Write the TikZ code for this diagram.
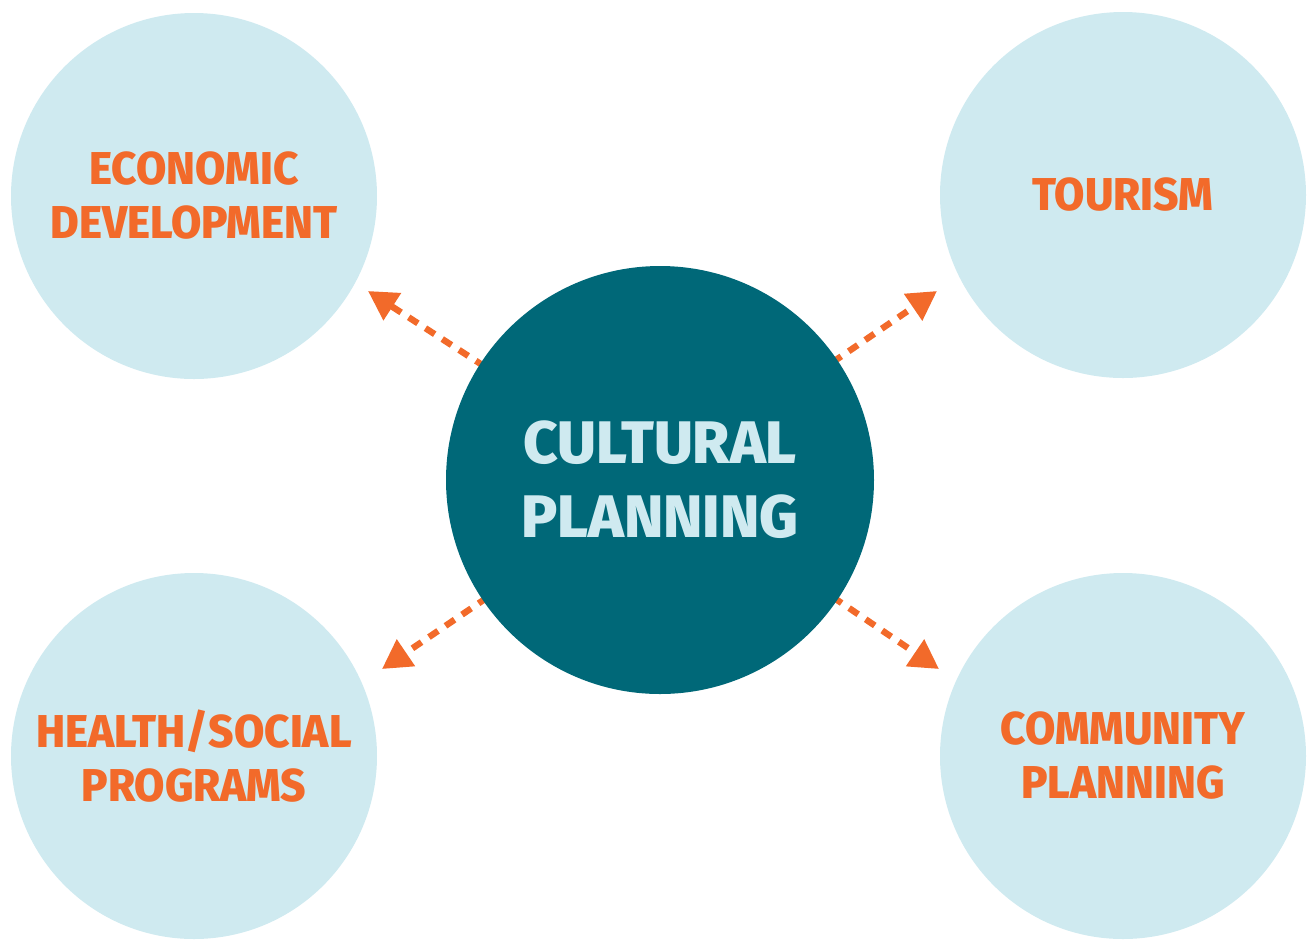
\documentclass[tikz,border=0pt]{standalone}
\usepackage{fontspec}
\setmainfont{Fira Sans}
\usetikzlibrary{arrows.meta,backgrounds}
\definecolor{teal}{HTML}{006878}
\definecolor{pale}{HTML}{CFEAF0}
\definecolor{orng}{HTML}{F26A2A}
\newfontfamily\narrowfont{Fira Sans ExtraBold}[FakeStretch=0.955]
\newfontfamily\hubfont{Fira Sans ExtraBold}
\tikzset{
  outer/.style={circle, fill=pale, minimum size=183pt, inner sep=0pt, align=center,
    text=orng, font=\fontsize{23}{27}\narrowfont},
  hub/.style={circle, fill=teal, minimum size=214pt, inner sep=0pt, align=center,
    text=pale, font=\fontsize{30}{37}\hubfont},
  link/.style={draw=orng, line width=3.2pt, dash pattern=on 5.5pt off 4.5pt,
    -{Triangle[length=14.5pt,width=15.5pt]}, shorten <=-3pt}
}
\begin{document}
\begin{tikzpicture}[x=0.5pt,y=-0.5pt]
\useasboundingbox (0,0) rectangle (1308,939);
\node[outer] (econ) at (194,196) {ECONOMIC\\DEVELOPMENT};
\node[outer] (tour) at (1123,195) {TOURISM};
\node[outer] (health) at (194,756) {HEALTH/SOCIAL\\PROGRAMS};
\node[outer] (comm) at (1123,756) {COMMUNITY\\PLANNING};
\node[hub] (cp) at (660,480) {CULTURAL\\PLANNING};
\coordinate (tEcon) at (368,291);
\coordinate (tTour) at (937,291);
\coordinate (tHealth) at (382,669);
\coordinate (tComm) at (939,669);
\begin{scope}[on background layer]
\draw[link] (cp) -- (tEcon);
\draw[link] (cp) -- (tTour);
\draw[link] (cp) -- (tHealth);
\draw[link] (cp) -- (tComm);
\end{scope}
\end{tikzpicture}
\end{document}
